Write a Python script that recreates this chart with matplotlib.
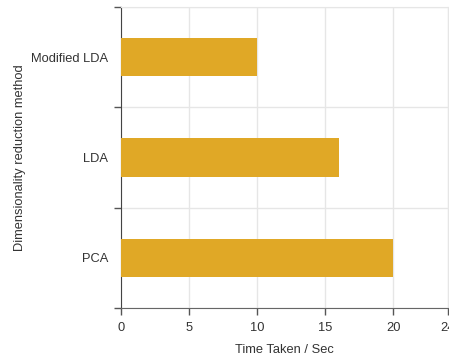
import numpy as np
import matplotlib.pyplot as plt

methods = ['PCA', 'LDA', 'Modified LDA']
times = [20, 16, 10]
x_ticks = [0, 5, 10, 15, 20, 24]

plt.rcParams['font.family'] = ['Liberation Sans', 'DejaVu Sans']

fig = plt.figure(figsize=(4.49, 3.60), dpi=100)
ax = fig.add_axes([121 / 449, 1 - 308 / 360, 326.5 / 449, 301 / 360])

pos = np.arange(len(methods))
ax.barh(pos, times, height=0.38, color='#E0A826', zorder=3)

ax.set_xlim(0, 24)
ax.set_ylim(-0.5, len(methods) - 0.5)
ax.set_xticks(x_ticks)
ax.set_yticks(pos)
ax.set_yticklabels(methods)
ax.set_yticks(np.arange(len(methods) + 1) - 0.5, minor=True)

ax.tick_params(axis='y', which='major', length=0, pad=9, labelsize=9.3, labelcolor='#333333')
ax.tick_params(axis='y', which='minor', length=5, width=1, color='#555555')
ax.tick_params(axis='x', length=5, width=1, color='#555555', labelsize=9.3,
               labelcolor='#333333', pad=5)

ax.grid(axis='x', which='major', color='#e6e6e6', linewidth=1, zorder=0)
ax.grid(axis='y', which='minor', color='#e6e6e6', linewidth=1, zorder=0)

for s in ['top', 'right']:
    ax.spines[s].set_color('#e6e6e6')
ax.spines['left'].set_color('#444444')
ax.spines['bottom'].set_color('#666666')

ax.set_xlabel('Time Taken / Sec', fontsize=9.3, color='#333333', labelpad=7)
ax.set_ylabel('Dimensionality reduction method', fontsize=9.3, color='#333333')
ax.yaxis.set_label_coords(-0.292, 0.5)

fig.savefig('out.png', dpi=100)
